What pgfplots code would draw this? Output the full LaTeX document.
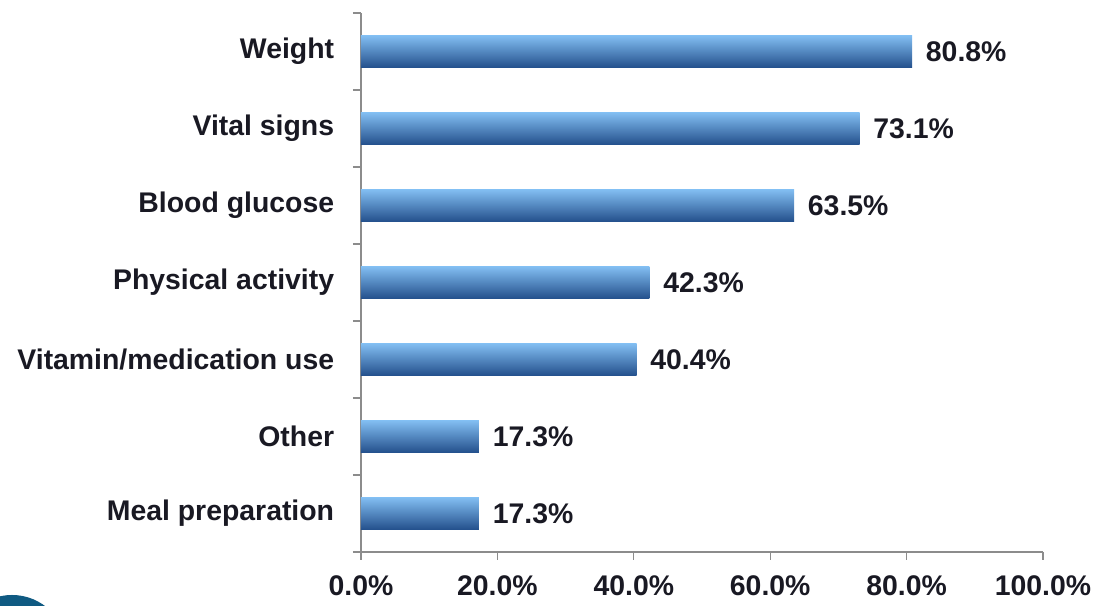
\documentclass[border=0pt]{standalone}
\usepackage{pgfplots}
\pgfplotsset{compat=1.18}
\usepackage{fontspec}
\setmainfont{Liberation Sans}
\definecolor{barTop}{RGB}{130,190,242}
\definecolor{barMid}{RGB}{58,126,208}
\definecolor{barBot}{RGB}{36,80,140}
\definecolor{axisGray}{RGB}{140,140,140}
\definecolor{txt}{RGB}{25,25,35}
\definecolor{logo}{RGB}{15,90,130}
\pgfplotsset{
  onebar/.style={draw=none, top color=barTop, middle color=barMid,
    bottom color=barBot, bar shift=0pt, forget plot},
}
\begin{document}
\fontsize{14.2}{17}\selectfont\bfseries
\begin{tikzpicture}
\begin{axis}[
  scale only axis,
  width=341pt, height=269.5pt,
  xbar, bar width=16pt,
  xmin=0, xmax=100,
  ymin=-0.5, ymax=6.5,
  axis lines*=left,
  axis line style={axisGray, line width=0.8pt},
  xtick={0,20,...,100},
  xticklabels={0.0\%,20.0\%,40.0\%,60.0\%,80.0\%,100.0\%},
  ytick={-0.5,0.5,...,6.5},
  yticklabels={},
  extra y ticks={0,...,6},
  extra y tick labels={Meal preparation,Other,Vitamin/medication use,Physical activity,Blood glucose,Vital signs,Weight},
  extra y tick style={major tick length=0pt, yticklabel style={xshift=-8.5pt, text=txt}},
  tick align=outside,
  tick style={axisGray, line width=0.6pt},
  major tick length=4pt,
  xticklabel style={yshift=-3pt, text=txt},
  /pgf/number format/assume math mode=true,
  nodes near coords={\pgfmathprintnumber[fixed,fixed zerofill,precision=1]{\pgfplotspointmeta}\%},
  nodes near coords style={text=txt, anchor=west, xshift=2pt},
  clip=false,
]
\addplot[onebar] coordinates {(17.3,0)};
\addplot[onebar] coordinates {(17.3,1)};
\addplot[onebar] coordinates {(40.4,2)};
\addplot[onebar] coordinates {(42.3,3)};
\addplot[onebar] coordinates {(63.5,4)};
\addplot[onebar] coordinates {(73.1,5)};
\addplot[onebar] coordinates {(80.8,6)};
\end{axis}
\path (current axis.south west) ++(-180.5pt,-24.5pt);
\path (current axis.north east) ++(30pt,6.5pt);
\fill[overlay, logo] (current axis.south west) ++(-174.5pt,-49pt) circle (27.5pt);
\end{tikzpicture}
\end{document}
